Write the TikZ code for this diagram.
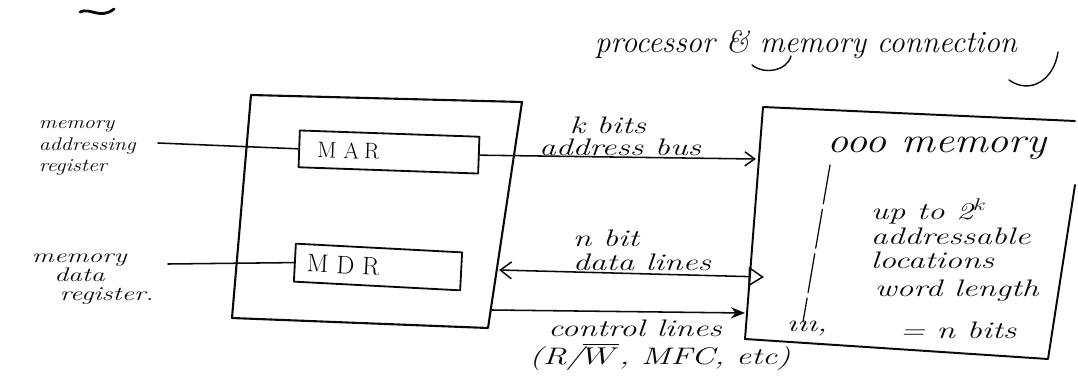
\documentclass[tikz,border=0pt]{standalone}
\usepackage{tikz}
\usepackage{xcolor}
\usepackage{amsmath,amssymb}
\usetikzlibrary{calc,arrows.meta,positioning}
\definecolor{inkBlack}{RGB}{10,10,10}
\tikzset{
  regbox/.style={draw=inkBlack,line width=1.3pt,align=left,inner xsep=3pt,inner ysep=2pt},
  sidelabel/.style={inkBlack,align=left,anchor=west,font=\itshape\fontsize{13}{15.5}\selectfont},
  buslabel/.style={inkBlack,align=left,xscale=1.4,font=\itshape\fontsize{17}{17}\selectfont},
  memlabel/.style={inkBlack,align=left,anchor=west,xscale=1.4,font=\itshape\fontsize{17}{17.5}\selectfont},
  busline/.style={draw=inkBlack,line width=1.1pt},
}

\begin{document}
\begin{tikzpicture}[x=0.025cm,y=-0.025cm,line cap=round,line join=round]
  \useasboundingbox (0,0) rectangle (1078,387);
  % les deux blocs, traces a main levee
  \coordinate (P1) at (251,95);
  \coordinate (P2) at (522,102);
  \coordinate (P3) at (488,328);
  \coordinate (P4) at (232,318);
  \coordinate (M1) at (763,107);
  \coordinate (M2) at (1075,121);
  \coordinate (M2b) at (1075,185);
  \coordinate (M3) at (1048,359);
  \coordinate (M4) at (745,339);
  \draw[inkBlack,line width=1.5pt] (P1)--(P2)--(P3)--(P4)--cycle;
  \draw[inkBlack,line width=1.4pt] (M2)--(M1)--(M4)--(M3)--(M2b);
  \draw[inkBlack,line width=2pt] (80,12) .. controls (90,7) and (100,20) .. (114,9);
  \node[inkBlack,font=\itshape\fontsize{22}{26}\selectfont] (title) at (806,45) {processor \& memory connection};
  \draw[inkBlack,line width=1pt] (791,56) .. controls (787,71) and (764,75) .. (752,65);
  \draw[inkBlack,line width=1pt] (1058,52) .. controls (1054,80) and (1030,95) .. (1009,80);
  \node[regbox,text width=4.28cm,minimum height=0.92cm,rotate=-2,font=\fontsize{16}{18}\selectfont] (mar) at (389,152) {\hspace{0.35cm}M\hspace{0.18cm}A\hspace{0.12cm}R};
  \node[regbox,text width=3.95cm,minimum height=0.95cm,rotate=-3,font=\fontsize{18}{20}\selectfont] (mdr) at (378,267) {\hspace{0.2cm}M\hspace{0.2cm}D\hspace{0.2cm}R};
  \node[sidelabel,xscale=1.2] (marlbl) at (33,148) {memory\\addressing\\register};
  \node[sidelabel,xscale=1.4,font=\itshape\fontsize{14}{13.5}\selectfont] (mdrlbl) at (25,279) {memory\\\hspace{0.4cm}data\\\hspace{0.5cm}register.};
  \coordinate (marin) at (158,143);
  \coordinate (mdrin) at (168,264);
  \coordinate (addrm) at (756,159);
  \coordinate (datap) at (499,270);
  \coordinate (datam) at (764,277);
  \coordinate (ctrlp) at (492,310);
  \coordinate (ctrlm) at (745,313);
  \draw[busline] (marin) -- (mar.west);
  \draw[busline] (mdrin) -- (mdr.west);
  \draw[busline,-{Straight Barb[length=7pt,width=10pt]}] (mar.east) -- (addrm);
  \draw[busline,{Straight Barb[length=8pt,width=12pt]}-{Triangle[open,length=11pt,width=14pt]}] (datap) -- (datam);
  \draw[busline,-{Stealth[length=10pt,width=8pt]}] (ctrlp) -- (ctrlm);
  \node[buslabel] (kbits) at (608,125) {k bits};
  \node[buslabel] (addrlbl) at (620,147) {address bus};
  \node[buslabel] (datalbl) at (642,250) {n bit\\data lines};
  \node[buslabel] (ctrllbl) at (635,328) {control lines};
  \node[buslabel] (ctrlsig) at (660,357) {(R/$\overline{W}$, MFC, etc)};
  % contenu de la memoire
  \node[inkBlack,xscale=1.2,font=\itshape\fontsize{25}{28}\selectfont] (memname) at (937,148) {ooo memory};
  \draw[inkBlack,line width=0.9pt,dash pattern=on 28pt off 4pt] (830,165) -- (803,322);
  \node[memlabel] (wordmark) at (780,329) {\i\i\i,};
  \node[memlabel] (memsize) at (864,234) {up to 2$^{k}$\\addressable\\locations};
  \node[memlabel] (wordlen) at (868,291) {word length};
  \node[memlabel] (nbits) at (893,330) {= n bits};
\end{tikzpicture}
\end{document}
